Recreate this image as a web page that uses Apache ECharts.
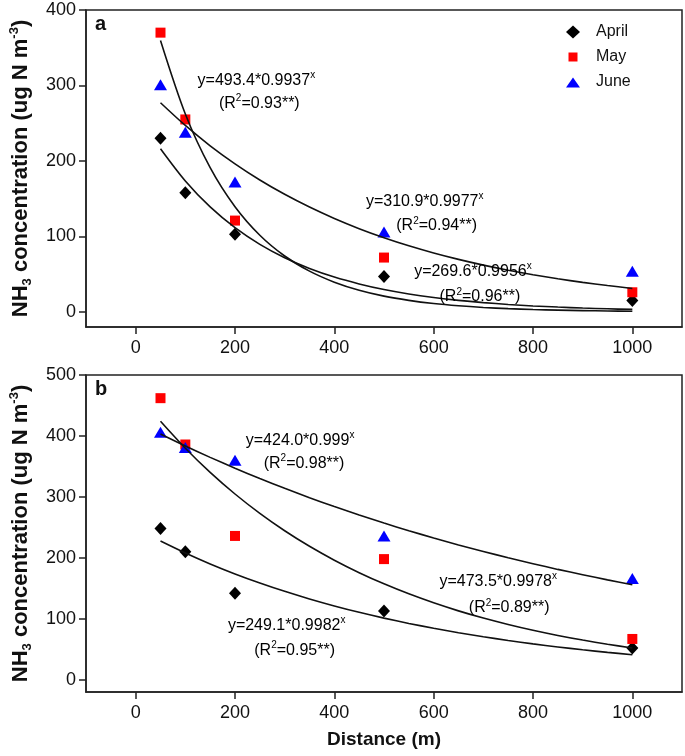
<!DOCTYPE html>
<html>
<head>
<meta charset="utf-8">
<script src="https://cdn.jsdelivr.net/npm/echarts@6/dist/echarts.min.js"></script>
<style>
html,body{margin:0;padding:0;background:#fff;}
#c{width:685px;height:756px;}
</style>
</head>
<body>
<div id="c"></div>
<script>
// ---------------- data ----------------
const distances = [50, 100, 200, 500, 1000];
// panel a
const aprilA = [230, 158, 103, 47, 15];
const mayA   = [370, 255, 121, 72, 26];
const juneA  = [301, 238, 172, 106, 54];
// panel b
const aprilB = [248, 210, 142, 113, 52];
const mayB   = [462, 386, 236, 198, 67];
const juneB  = [406, 381, 360, 236, 166];

// fitted curves
const fitX = [50, 100, 150, 200, 250, 300, 350, 400, 450, 500, 550, 600, 650, 700, 750, 800, 850, 900, 950, 1000];
const fitAprilA = [216.2, 173.5, 139.1, 111.6, 89.5, 71.8, 57.6, 46.2, 37.1, 29.7, 23.8, 19.1, 15.3, 12.3, 9.9, 7.9, 6.4, 5.1, 4.1, 3.3];
const fitMayA   = [359.7, 262.3, 191.2, 139.4, 101.6, 74.1, 54.0, 39.4, 28.7, 20.9, 15.3, 11.1, 8.1, 5.9, 4.3, 3.1, 2.3, 1.7, 1.2, 0.9];
const fitJuneA  = [277.1, 247.0, 220.1, 196.2, 174.8, 155.8, 138.9, 123.8, 110.3, 98.3, 87.6, 78.1, 69.6, 62.0, 55.3, 49.3, 43.9, 39.1, 34.9, 31.1];
const fitAprilB = [227.6, 208.0, 190.1, 173.7, 158.8, 145.1, 132.6, 121.2, 110.7, 101.2, 92.5, 84.5, 77.2, 70.6, 64.5, 58.9, 53.9, 49.2, 45.0, 41.1];
const fitMayB   = [424.1, 379.9, 340.3, 304.8, 273.0, 244.5, 219.0, 196.2, 175.7, 157.4, 141.0, 126.3, 113.1, 101.3, 90.8, 81.3, 72.8, 65.2, 58.4, 52.3];
const fitJuneB  = [403.3, 383.6, 364.9, 347.1, 330.2, 314.1, 298.8, 284.2, 270.3, 257.2, 244.6, 232.7, 221.3, 210.6, 200.2, 190.5, 181.1, 172.4, 163.9, 156.0];

// axis ticks
const xTicks  = [0, 200, 400, 600, 800, 1000];
const yTicksA = [0, 100, 200, 300, 400];
const yTicksB = [0, 100, 200, 300, 400, 500];

// annotation texts
const notesA = ['y=493.4*0.9937^x', '(R^2=0.93**)', 'y=310.9*0.9977^x', '(R^2=0.94**)', 'y=269.6*0.9956^x', '(R^2=0.96**)'];
const notesB = ['y=424.0*0.999^x', '(R^2=0.98**)', 'y=473.5*0.9978^x', '(R^2=0.89**)', 'y=249.1*0.9982^x', '(R^2=0.95**)'];
// annotation anchor positions (data units)
const notePosA = [[243, 307], [249, 276], [582, 146], [606, 114], [679, 54], [693, 20]];
const notePosB = [[331, 393], [339, 355], [730, 161], [752, 118], [304, 89], [320, 48]];

// ---------------- chart ----------------
const FONT = '"Liberation Sans", Arial, Helvetica, sans-serif';
const INK = '#111';
const pairs = (xs, ys) => xs.map((x, i) => [x, ys[i]]);
const toRich = s => s.split(/\^(\w)/).map((p, i) => p === '' ? '' : (i % 2 ? '{s|' + p + '}' : '{e|' + p + '}')).join('');

const chart = echarts.init(document.getElementById('c'), null, {renderer: 'canvas'});

function xAxis(gi, withName) {
  return {
    type: 'value', gridIndex: gi, min: -100, max: 1100,
    axisLine: {show: true, onZero: false, lineStyle: {color: '#222', width: 1.5}},
    axisTick: {show: true, customValues: xTicks, length: 7, lineStyle: {color: '#222', width: 1.5}},
    axisLabel: {customValues: xTicks, margin: 12, fontSize: 18, color: INK, fontFamily: FONT, formatter: v => String(v)},
    splitLine: {show: false},
    name: withName ? 'Distance (m)' : '',
    nameLocation: 'middle', nameGap: 38,
    nameTextStyle: {fontSize: 19, fontWeight: 'bold', color: INK, fontFamily: FONT}
  };
}
function yAxis(gi, max, ticks) {
  return {
    type: 'value', gridIndex: gi, min: -20, max: max,
    axisLine: {show: true, onZero: false, lineStyle: {color: '#222', width: 1.5}},
    axisTick: {show: true, customValues: ticks, length: 7, lineStyle: {color: '#222', width: 1.5}},
    axisLabel: {customValues: ticks, margin: 10, fontSize: 18, color: INK, fontFamily: FONT, formatter: v => String(v)},
    splitLine: {show: false},
    name: '{b|NH}{sub|3}{b| concentration (ug N m}{sup|-3}{b|)}',
    nameLocation: 'middle', nameGap: 52,
    nameTextStyle: {
      color: INK,
      rich: {
        b: {fontSize: 22, fontWeight: 'bold', fontFamily: FONT, color: INK, lineHeight: 26},
        sub: {fontSize: 13, fontWeight: 'bold', fontFamily: FONT, color: INK, verticalAlign: 'bottom', lineHeight: 14},
        sup: {fontSize: 13, fontWeight: 'bold', fontFamily: FONT, color: INK, verticalAlign: 'top', lineHeight: 14}
      }
    }
  };
}

function scatter(name, gi, ys, symbol, size, color) {
  return {
    name: name, type: 'scatter', xAxisIndex: gi, yAxisIndex: gi,
    symbol: symbol, symbolSize: size, itemStyle: {color: color, opacity: 1},
    data: pairs(distances, ys), z: 2
  };
}
function fit(gi, ys) {
  return {
    name: 'fit', type: 'line', xAxisIndex: gi, yAxisIndex: gi,
    smooth: 0.3, symbol: 'none', showSymbol: false, silent: true,
    lineStyle: {color: '#111', width: 1.6}, data: pairs(fitX, ys), z: 3
  };
}
function notes(gi, texts, pos) {
  return {
    name: 'notes', type: 'scatter', xAxisIndex: gi, yAxisIndex: gi, silent: true,
    symbol: 'circle', symbolSize: 1, itemStyle: {color: 'rgba(0,0,0,0)'},
    data: texts.map((t, i) => ({value: pos[i], name: toRich(t)})),
    label: {
      show: true, position: 'inside', formatter: p => p.name,
      color: '#000', textBorderWidth: 0, opacity: 1,
      rich: {
        e: {fontSize: 16, fontFamily: FONT, color: '#000', lineHeight: 20, textBorderWidth: 0},
        s: {fontSize: 10, fontFamily: FONT, color: '#000', verticalAlign: 'top', lineHeight: 11, textBorderWidth: 0}
      }
    },
    z: 5
  };
}

const option = {
  animation: false,
  backgroundColor: '#fff',
  grid: [
    {left: 80, top: 10, width: 602, height: 317, show: true, borderColor: '#222', borderWidth: 1.5, backgroundColor: 'transparent'},
    {left: 80, top: 375, width: 602, height: 317, show: true, borderColor: '#222', borderWidth: 1.5, backgroundColor: 'transparent'}
  ],
  xAxis: [xAxis(0, false), xAxis(1, true)],
  yAxis: [yAxis(0, 400, yTicksA), yAxis(1, 500, yTicksB)],
  legend: {
    orient: 'vertical', left: 566, top: 24, padding: 0,
    itemWidth: 14, itemHeight: 13, itemGap: 9,
    textStyle: {fontSize: 16, color: INK, fontFamily: FONT, padding: [0, 0, 0, 11]},
    data: [
      {name: 'April', icon: 'diamond'},
      {name: 'May', icon: 'path://M0,0M14,13M2.5,2h9v9h-9z'},
      {name: 'June', icon: 'path://M0,0M14,13M0,12L7,2L14,12z'}
    ]
  },
  graphic: [
    {type: 'text', left: 95, top: 14, style: {text: 'a', font: 'bold 20px ' + FONT, fill: INK}},
    {type: 'text', left: 95, top: 379, style: {text: 'b', font: 'bold 20px ' + FONT, fill: INK}}
  ],
  series: [
    scatter('April', 0, aprilA, 'diamond', [12, 13], '#000000'),
    scatter('May', 0, mayA, 'rect', 10, '#ff0000'),
    scatter('June', 0, juneA, 'triangle', [13, 11], '#0000ff'),
    fit(0, fitAprilA), fit(0, fitMayA), fit(0, fitJuneA),
    notes(0, notesA, notePosA),
    scatter('April', 1, aprilB, 'diamond', [12, 13], '#000000'),
    scatter('May', 1, mayB, 'rect', 10, '#ff0000'),
    scatter('June', 1, juneB, 'triangle', [13, 11], '#0000ff'),
    fit(1, fitAprilB), fit(1, fitMayB), fit(1, fitJuneB),
    notes(1, notesB, notePosB)
  ]
};
chart.setOption(option);
</script>
</body>
</html>
